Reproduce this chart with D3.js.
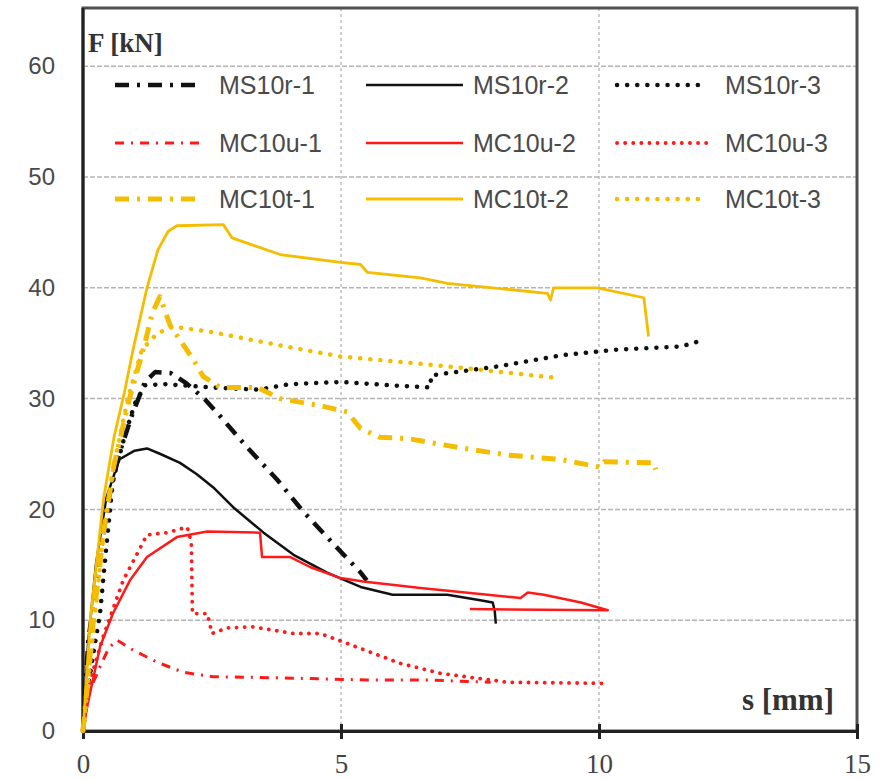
<!DOCTYPE html>
<html>
<head>
<meta charset="utf-8">
<script src="https://cdn.jsdelivr.net/npm/d3@7"></script>
<style>
  body { margin: 0; background: #fff; }
  svg { display: block; }
</style>
</head>
<body>
<svg width="879" height="780"></svg>
<script>
// displacement s [mm], force F [kN]
var ms10r1 = [[0,0],[0.1,8],[0.3,15],[0.5,21],[0.7,25],[0.95,28.5],[1.2,31.5],[1.4,32.4],[1.7,32.3],[2.0,31.4],[2.37,29.9],[2.66,28.4],[3.18,25.6],[3.76,22.7],[4.25,19.9],[4.79,17.2],[5.38,14.3],[5.5,13.6]]
var ms10r2 = [[0,0],[0.1,8],[0.25,15],[0.45,21],[0.7,24.5],[1.0,25.3],[1.24,25.5],[1.5,25.0],[1.88,24.2],[2.2,23.2],[2.52,22.0],[2.91,20.2],[3.5,17.9],[4.08,15.9],[4.73,14.3],[5.38,13.0],[6.0,12.3],[7.06,12.3],[7.7,11.8],[7.94,11.6],[7.98,10.8],[8.0,9.7]]
var ms10r3 = [[0,0],[0.1,4],[0.2,7],[0.33,10.6],[0.45,16.5],[0.58,22.6],[0.8,26.5],[1.0,29.5],[1.2,31.2],[1.6,31.3],[2.5,31.0],[3.4,30.8],[4.0,31.3],[5.0,31.5],[5.96,31.2],[6.73,31.0],[6.75,32.1],[8.03,32.9],[9.26,33.9],[10.29,34.4],[11.59,34.7],[12.03,35.3]]
var mc10u1 = [[0,0],[0.08,3.1],[0.33,5.8],[0.5,7.5],[0.66,8.2],[0.97,7.3],[1.44,6.2],[1.94,5.3],[2.52,4.9],[3.82,4.8],[5.5,4.6],[6.67,4.6],[7.9,4.4]]
var mc10u2 = [[0,0],[0.08,2.2],[0.33,7.6],[0.58,10.6],[0.91,13.6],[1.24,15.7],[1.82,17.5],[2.41,18.0],[3.43,17.9],[3.47,15.7],[4.02,15.7],[4.4,14.8],[4.99,13.8],[5.43,13.5],[6.54,12.9],[8.48,12.0],[8.62,12.5],[8.93,12.3],[9.65,11.6],[10.17,10.9],[7.5,11.0]]
var mc10u3 = [[0,0],[0.14,4.6],[0.39,8.5],[0.78,13.6],[1.24,17.7],[1.63,17.9],[2.02,18.4],[2.1,17],[2.12,10.6],[2.41,10.6],[2.5,8.8],[2.79,9.3],[3.3,9.4],[4.08,8.8],[4.6,8.8],[5.12,7.9],[6.15,6.1],[6.93,5.2],[8.23,4.4],[10.17,4.3]]
var mc10t1 = [[0,0],[0.2,10],[0.4,18],[0.6,24],[0.9,30],[1.2,35],[1.34,37.7],[1.49,39.2],[1.69,36.6],[2.14,33.5],[2.33,32.0],[2.66,31.0],[3.38,31.0],[3.82,30.0],[4.66,29.3],[5.12,28.8],[5.38,27.3],[5.76,26.5],[6.29,26.4],[7.26,25.6],[8.23,24.9],[9.26,24.5],[10.03,23.8],[10.1,24.3],[11.06,24.2],[11.1,23.6]]
var mc10t2 = [[0,0],[0.14,10],[0.4,21],[0.6,26.5],[0.8,30.5],[0.97,34.4],[1.24,40],[1.45,43.4],[1.65,45.1],[1.82,45.6],[2.72,45.7],[2.89,44.5],[3.82,43.0],[4.99,42.3],[5.38,42.1],[5.51,41.4],[6.54,40.9],[7.06,40.4],[8.35,39.8],[9.0,39.5],[9.06,38.9],[9.12,40.0],[9.97,40.0],[10.87,39.1],[10.96,35.6]]
var mc10t3 = [[0,0],[0.2,9],[0.4,18],[0.6,24],[0.87,30],[1.14,34.4],[1.44,35.9],[1.75,36.5],[2.5,36.0],[3.82,34.8],[4.99,33.8],[6.4,33.2],[7.7,32.6],[9.12,31.9]]

var names = ["MS10r-1", "MS10r-2", "MS10r-3", "MC10u-1", "MC10u-2", "MC10u-3", "MC10t-1", "MC10t-2", "MC10t-3"]
var seriesData = [ms10r1, ms10r2, ms10r3, mc10u1, mc10u2, mc10u3, mc10t1, mc10t2, mc10t3]
var yTicks = [0, 10, 20, 30, 40, 50, 60]
var xTicks = [0, 5, 10, 15]

var black = "#111", red = "#ff1a1a", gold = "#f5bd00"
var styles = [
    {c: black, w: 4.5, dash: "14 8 3 8"},
    {c: black, w: 2.5, dash: null},
    {c: black, w: 4.5, dash: "0.1 10"},
    {c: red, w: 3, dash: "9 7 2 7"},
    {c: red, w: 2.5, dash: null},
    {c: red, w: 3.8, dash: "0.1 8"},
    {c: gold, w: 5, dash: "14 8 3 8"},
    {c: gold, w: 2.8, dash: null},
    {c: gold, w: 4.5, dash: "0.1 10"}
]

var svg = d3.select("svg")
var pL = 83, pR = 857, pT = 8, pB = 731

var x = d3.scaleLinear().domain([0, 15]).range([pL, pR])
var y = d3.scaleLinear().domain([0, 65.25]).range([pB, pT])

// grid
svg.append("g").selectAll("line").data(yTicks.slice(1)).enter().append("line")
    .attr("x1", pL).attr("x2", pR)
    .attr("y1", d => y(d)).attr("y2", d => y(d))
    .attr("stroke", "#b4b4b4").attr("stroke-width", 1.5).attr("stroke-dasharray", "5 2")

svg.append("g").selectAll("line").data([5, 10]).enter().append("line")
    .attr("x1", d => x(d)).attr("x2", d => x(d))
    .attr("y1", pT).attr("y2", pB)
    .attr("stroke", "#b4b4b4").attr("stroke-width", 1.3).attr("stroke-dasharray", "3 3")

// frame
svg.append("rect").attr("x", pL).attr("y", pT)
    .attr("width", pR - pL).attr("height", pB - pT)
    .attr("fill", "none").attr("stroke", "#505050").attr("stroke-width", 3)

svg.append("line").attr("x1", pL).attr("x2", pL).attr("y1", pT).attr("y2", pB)
    .attr("stroke", "#222").attr("stroke-width", 3)

// axes
var xAxis = d3.axisBottom(x).tickValues(xTicks).tickSize(8).tickPadding(15)
var gx = svg.append("g").attr("transform", `translate(0, ${pB})`).call(xAxis)
gx.select(".domain").attr("stroke", "#222").attr("stroke-width", 3)
gx.selectAll(".tick line").attr("stroke", "#222").attr("stroke-width", 3).attr("y1", -7)
gx.selectAll(".tick text").attr("font-family", "Liberation Serif").attr("font-size", 27)
    .attr("fill", "#444")

var yAxis = d3.axisLeft(y).tickValues(yTicks).tickSize(0).tickPadding(28)
var gy = svg.append("g").attr("transform", `translate(${pL}, 0)`).call(yAxis)
gy.select(".domain").remove()
gy.selectAll(".tick text").attr("font-family", "Liberation Sans").attr("font-size", 24)
    .attr("fill", "#4a4a4a")

// curves
var line = d3.line().x(d => x(d[0])).y(d => y(d[1]))
var isDotted = s => s.dash && s.dash.startsWith("0.1")

svg.append("g").selectAll("path").data(seriesData).enter().append("path")
    .attr("d", d => line(d))
    .attr("fill", "none")
    .attr("stroke", (d, i) => styles[i].c)
    .attr("stroke-width", (d, i) => styles[i].w)
    .attr("stroke-dasharray", (d, i) => styles[i].dash)
    .attr("stroke-linecap", (d, i) => isDotted(styles[i]) ? "round" : "butt")
    .attr("stroke-linejoin", "round")

// legend
var colX = [115, 366, 617], colW = [86, 97, 90], rowY = [85, 143, 199]
var leg = svg.append("g").selectAll("g").data(names).enter().append("g")
    .attr("transform", (d, i) => `translate(${colX[i % 3]}, ${rowY[Math.floor(i / 3)]})`)

leg.append("line")
    .attr("x1", 0).attr("x2", (d, i) => colW[i % 3])
    .attr("stroke", (d, i) => styles[i].c)
    .attr("stroke-width", (d, i) => styles[i].w)
    .attr("stroke-dasharray", (d, i) => styles[i].dash)
    .attr("stroke-linecap", (d, i) => isDotted(styles[i]) ? "round" : "butt")

leg.append("text")
    .attr("x", (d, i) => colW[i % 3] + 18 - (i % 3 == 1 ? 8 : 0))
    .attr("dy", "0.35em")
    .attr("font-family", "Liberation Sans").attr("font-size", 25)
    .attr("fill", "#4a4a4a")
    .text(d => d)

// axis titles
svg.append("text").attr("x", 88).attr("y", 52)
    .attr("font-family", "Liberation Serif").attr("font-weight", "bold").attr("font-size", 27)
    .attr("fill", "#333").text("F [kN]")

svg.append("text").attr("x", 834).attr("y", 710).attr("text-anchor", "end")
    .attr("font-family", "Liberation Serif").attr("font-weight", "bold").attr("font-size", 31)
    .attr("fill", "#333").text("s [mm]")
</script>
</body>
</html>
